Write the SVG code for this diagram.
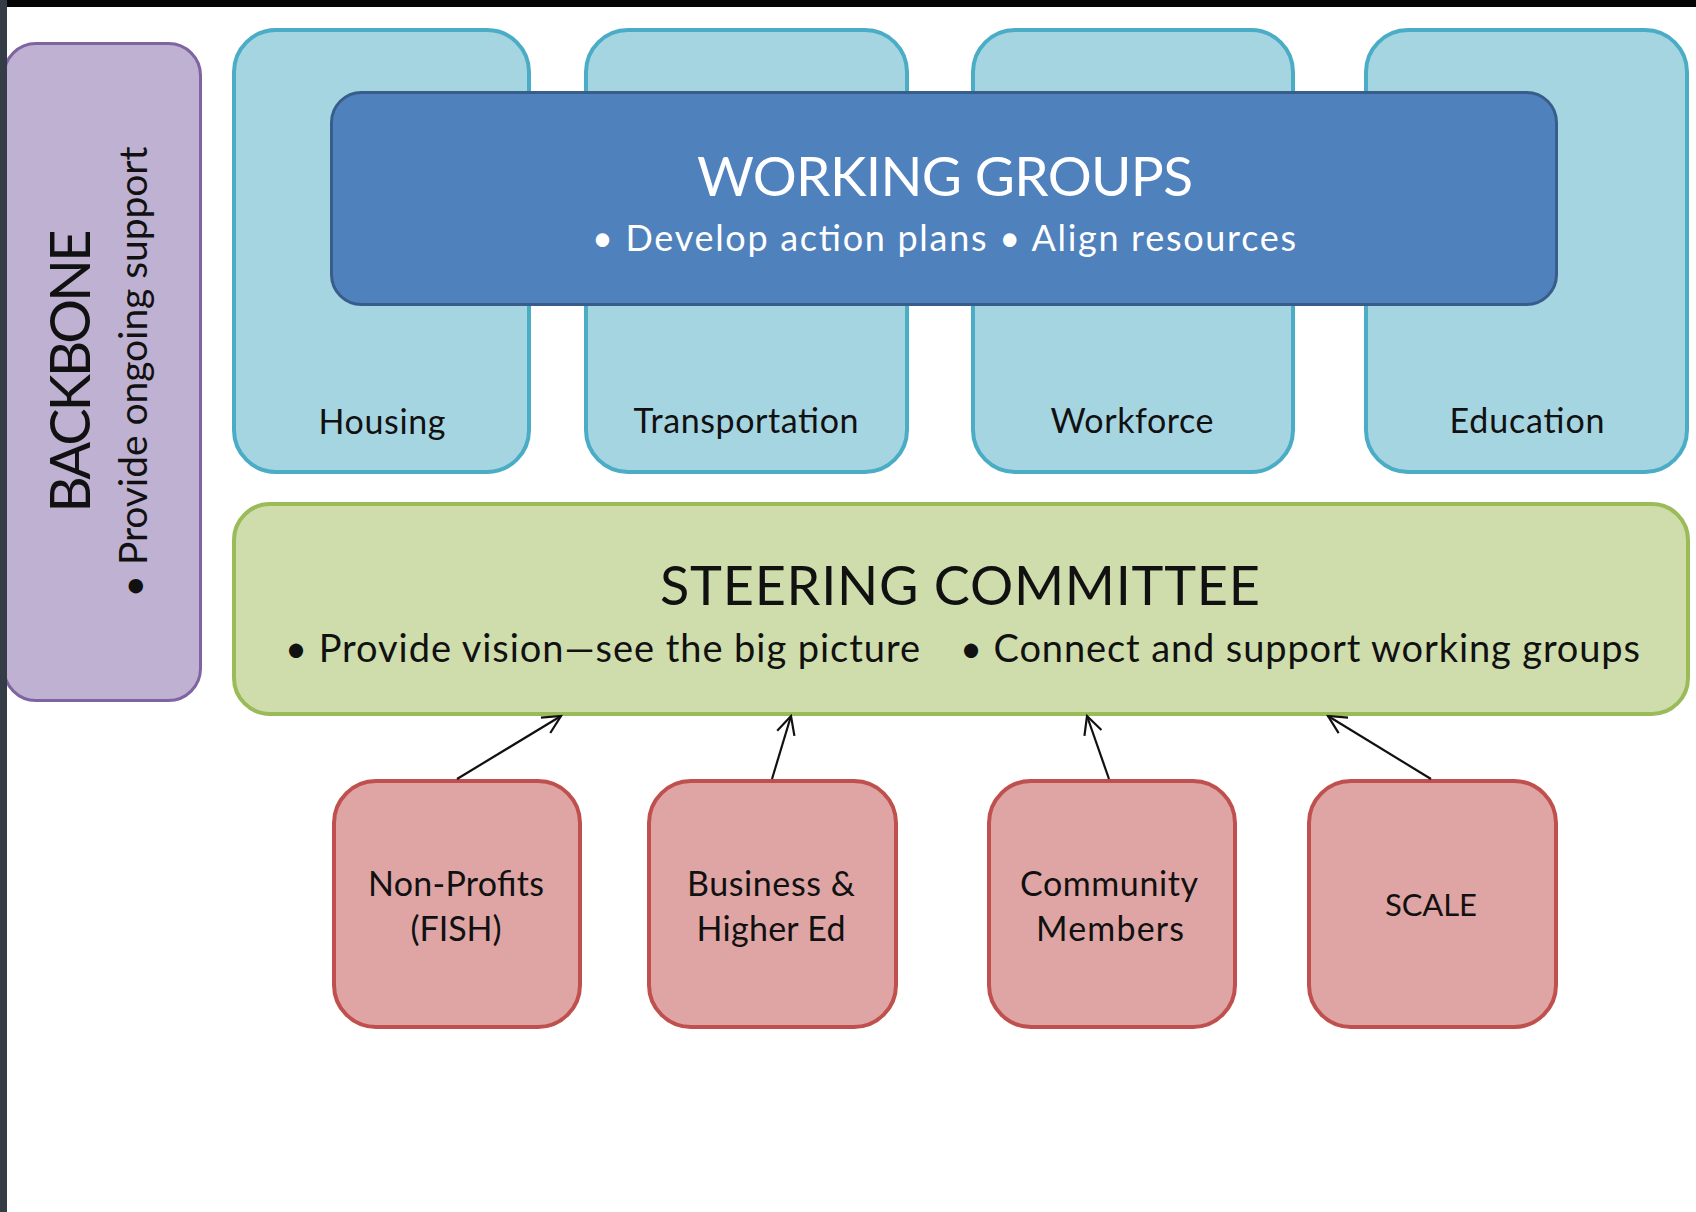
<svg xmlns="http://www.w3.org/2000/svg" width="1696" height="1212" viewBox="0 0 1696 1212">
<defs>
<style>
text{font-family:Lato,"Liberation Sans",sans-serif;}
.lb{fill:#a6d5e2;stroke:#4bacc6;stroke-width:4;}
.rd{fill:#dfa5a4;stroke:#c0504d;stroke-width:4;}
.dk{fill:#111;}
.wt{fill:#fff;}
.conn{stroke:#111;stroke-width:2.2;fill:none;marker-end:url(#arr);}
</style>
<marker id="arr" viewBox="-20 -12 22 24" markerWidth="22" markerHeight="24" markerUnits="userSpaceOnUse" refX="0" refY="0" orient="auto">
<path d="M-18,-9 L0,0 L-18,9" fill="none" stroke="#111" stroke-width="2.2"/>
</marker>
</defs>
<rect x="0" y="0" width="1696" height="1212" fill="#fff"/>

<g id="backbone">
<rect x="4" y="43.5" width="196.5" height="657" rx="32" fill="#bfb1d2" stroke="#8064a2" stroke-width="3"/>
<text class="dk" font-size="56" text-anchor="middle" textLength="283" lengthAdjust="spacing" transform="translate(90,371) rotate(-90)">BACKBONE</text>
<text class="dk" font-size="39" text-anchor="middle" textLength="451" lengthAdjust="spacing" transform="translate(147,372) rotate(-90)">• Provide ongoing support</text>
</g>

<g id="housing">
<rect class="lb" x="234" y="30" width="295" height="442" rx="42"/>
<text class="dk" font-size="34" x="382" y="434" text-anchor="middle" textLength="127" lengthAdjust="spacing">Housing</text>
</g>
<g id="transportation">
<rect class="lb" x="586" y="30" width="321" height="442" rx="42"/>
<text class="dk" font-size="34" x="746" y="433" text-anchor="middle" textLength="225" lengthAdjust="spacing">Transportation</text>
</g>
<g id="workforce">
<rect class="lb" x="973" y="30" width="320" height="442" rx="42"/>
<text class="dk" font-size="34" x="1132" y="433" text-anchor="middle" textLength="163" lengthAdjust="spacing">Workforce</text>
</g>
<g id="education">
<rect class="lb" x="1366" y="30" width="321" height="442" rx="42"/>
<text class="dk" font-size="34" x="1527" y="433" text-anchor="middle" textLength="155" lengthAdjust="spacing">Education</text>
</g>

<g id="working-groups">
<rect x="331.5" y="92.5" width="1225" height="212" rx="30" fill="#4f81bd" stroke="#385d8a" stroke-width="3"/>
<text class="wt" font-size="55" x="697" y="196" textLength="496" lengthAdjust="spacing">WORKING GROUPS</text>
<text class="wt" font-size="36" x="592" y="251" textLength="704" lengthAdjust="spacing">• Develop action plans • Align resources</text>
</g>

<g id="steering-committee">
<rect x="234" y="504" width="1454" height="210" rx="36" fill="#cfddac" stroke="#9bbb59" stroke-width="4"/>
<text class="dk" font-size="54" x="660" y="605" textLength="600" lengthAdjust="spacing">STEERING COMMITTEE</text>
<text class="dk" font-size="38" x="285" y="662" textLength="635" lengthAdjust="spacing">• Provide vision—see the big picture</text>
<text class="dk" font-size="38" x="960" y="662" textLength="680" lengthAdjust="spacing">• Connect and support working groups</text>
</g>

<g id="non-profits">
<rect class="rd" x="334" y="781" width="246" height="246" rx="42"/>
<text class="dk" font-size="34" x="456" y="896" text-anchor="middle" textLength="176" lengthAdjust="spacing">Non-Profits</text>
<text class="dk" font-size="34" x="456" y="941" text-anchor="middle" textLength="91" lengthAdjust="spacing">(FISH)</text>
</g>
<g id="business">
<rect class="rd" x="649" y="781" width="247" height="246" rx="42"/>
<text class="dk" font-size="34" x="771" y="896" text-anchor="middle" textLength="168" lengthAdjust="spacing">Business &amp;</text>
<text class="dk" font-size="34" x="771" y="941" text-anchor="middle" textLength="149" lengthAdjust="spacing">Higher Ed</text>
</g>
<g id="community">
<rect class="rd" x="989" y="781" width="246" height="246" rx="42"/>
<text class="dk" font-size="34" x="1109" y="896" text-anchor="middle" textLength="178" lengthAdjust="spacing">Community</text>
<text class="dk" font-size="34" x="1110" y="941" text-anchor="middle" textLength="148" lengthAdjust="spacing">Members</text>
</g>
<g id="scale">
<rect class="rd" x="1309" y="781" width="247" height="246" rx="42"/>
<text class="dk" font-size="31" x="1431" y="916" text-anchor="middle" textLength="92" lengthAdjust="spacing">SCALE</text>
</g>

<g id="connectors">
<line class="conn" x1="457" y1="779" x2="561" y2="716"/>
<line class="conn" x1="772" y1="779" x2="791" y2="716"/>
<line class="conn" x1="1109" y1="779" x2="1087" y2="716"/>
<line class="conn" x1="1431" y1="779" x2="1328" y2="716"/>
</g>

<g id="frame">
<rect x="0" y="0" width="1696" height="7" fill="#050505"/>
<rect x="0" y="0" width="7" height="1212" fill="#343d46"/>
</g>
</svg>
